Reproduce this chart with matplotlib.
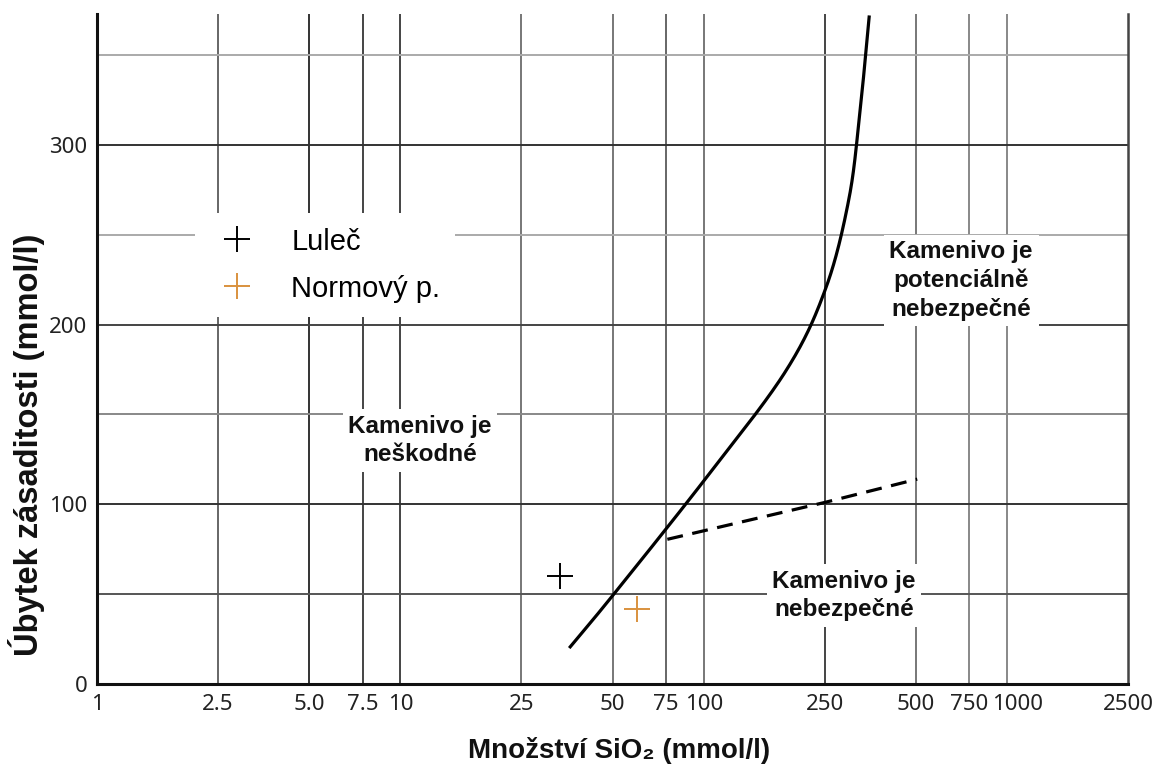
import matplotlib.pyplot as plt
import matplotlib.transforms as mtransforms
import numpy as np

# hranicni krivka (mmol/l SiO2 vs. ubytek zasaditosti)
curve_x = [36, 50.5, 101, 186, 252, 300, 326, 351]
curve_y = [20, 50, 114, 174, 220, 269, 316, 372]

# prerusovana hranice
dash_x = [75.8, 250, 505]
dash_y = [80.5, 101, 114]

# namerene body
lulec_x, lulec_y = [33.5], [60]
norm_x, norm_y = [60], [42]

xticks = [1, 2.5, 5, 7.5, 10, 25, 50, 75, 100, 250, 500, 750, 1000, 2500]
xticklabels = ["1", "2.5", "5.0", "7.5", "10", "25", "50", "75", "100",
               "250", "500", "750", "1000", "2500"]
yticks = [0, 100, 200, 300]


def smooth(xs, ys, n=40):
    # Catmull-Rom v priblizne izotropnim prostoru (log x, y)
    kx, ky = 305.0, 1.8
    p = np.column_stack([np.log10(xs) * kx, np.asarray(ys) * ky])
    p = np.vstack([2 * p[0] - p[1], p, 2 * p[-1] - p[-2]])
    out = []
    t = np.linspace(0, 1, n, endpoint=False)[:, None]
    for i in range(1, len(p) - 2):
        p0, p1, p2, p3 = p[i - 1], p[i], p[i + 1], p[i + 2]
        seg = 0.5 * (2 * p1 + (-p0 + p2) * t + (2 * p0 - 5 * p1 + 4 * p2 - p3) * t ** 2
                     + (-p0 + 3 * p1 - 3 * p2 + p3) * t ** 3)
        out.append(seg)
    out.append(p[-2][None, :])
    out = np.vstack(out)
    return 10 ** (out[:, 0] / kx), out[:, 1] / ky


W, H = 1154, 764
fig = plt.figure(figsize=(W / 100, H / 100), dpi=100)
ax = fig.add_axes([97 / W, 1 - 684 / H, (1128 - 97) / W, (684 - 14) / H])
ax.set_xscale("log")
ax.set_xlim(1, 2500)
ax.set_ylim(0, 372.8)

# mrizka - ruzne odstiny jako v originale
vcol = ["#666", "#333", "#444", "#444", "#777", "#777", "#666", "#777",
        "#444", "#777", "#888", "#888"]
for xv, c in zip(xticks[1:-1], vcol):
    ax.axvline(xv, color=c, lw=1.4, zorder=0)
hlines = [50, 100, 150, 200, 250, 300, 350]
hcol = ["#555", "#333", "#888", "#444", "#aaa", "#333", "#aaa"]
for yv, c in zip(hlines, hcol):
    ax.axhline(yv, color=c, lw=1.4, zorder=0)

sx, sy = smooth(curve_x, curve_y)
ax.plot(sx, sy, color="black", lw=2.3, zorder=3, solid_capstyle="butt")
ax.plot(dash_x, dash_y, color="black", lw=2.3, ls=(0, (5, 3)), zorder=3)

ax.plot(lulec_x, lulec_y, ls="none", marker="+", ms=19, mew=1.4,
        color="black", label="Luleč", zorder=4)
ax.plot(norm_x, norm_y, ls="none", marker="+", ms=19, mew=1.4,
        color="#d9923e", label="Normový p.", zorder=4)

ax.set_xticks(xticks)
ax.set_xticklabels(xticklabels)
ax.xaxis.set_minor_locator(plt.NullLocator())
ax.set_yticks(yticks)
ax.tick_params(length=0, labelsize=16, colors="#222", pad=7)
for lab in ax.get_xticklabels() + ax.get_yticklabels():
    lab.set_family("Noto Sans")
# "1000" je v originale posunuto doprava
lab1000 = ax.get_xticklabels()[xticklabels.index("1000")]
lab1000.set_transform(lab1000.get_transform() +
                      mtransforms.ScaledTranslation(10 / 100, 0, fig.dpi_scale_trans))

for s in ["left", "bottom"]:
    ax.spines[s].set_linewidth(2.2)
    ax.spines[s].set_color("#111")
ax.spines["right"].set_linewidth(1.8)
ax.spines["right"].set_color("#444")
ax.spines["top"].set_visible(False)

box = dict(facecolor="white", edgecolor="none", pad=4)
tkw = dict(fontsize=17.5, fontweight="bold", family="Liberation Sans",
           ha="center", va="center", color="#111", linespacing=1.3,
           bbox=box, zorder=5)
ax.text(11.6, 135.6, "Kamenivo je\nneškodné", **tkw)
ax.text(705, 224.5, "Kamenivo je\npotenciálně\nnebezpečné", **tkw)
ax.text(290, 49.4, "Kamenivo je\nnebezpečné", **tkw)

leg = ax.legend(loc="upper left", bbox_to_anchor=(195 / W, 1 - 213 / H),
                bbox_transform=fig.transFigure, frameon=True, fancybox=False,
                prop={"family": "Liberation Sans", "size": 21},
                handlelength=1.85, handletextpad=0.95, labelspacing=0.65,
                borderpad=0.5, borderaxespad=0)
leg.get_frame().set_edgecolor("none")
leg.get_frame().set_facecolor("white")
leg.get_frame().set_alpha(1)
leg.set_zorder(6)

fig.text(619 / W, 1 - 750 / H, "Množství SiO₂ (mmol/l)", fontsize=20,
         fontweight="bold", family="Liberation Sans", ha="center", va="center",
         color="#111")
fig.text(27 / W, 1 - 445 / H, "Úbytek zásaditosti (mmol/l)", fontsize=23.5,
         fontweight="bold", family="Liberation Sans", ha="center", va="center",
         rotation=90, color="#111")

fig.savefig("out.png", dpi=100)
